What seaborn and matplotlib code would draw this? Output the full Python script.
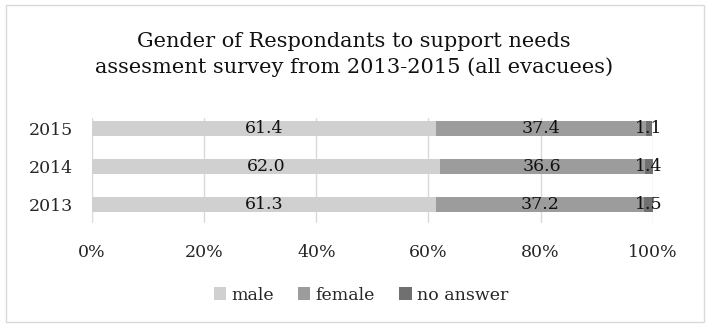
import matplotlib
matplotlib.use("Agg")
import matplotlib.pyplot as plt
from matplotlib.patches import Rectangle, Patch
import seaborn as sns
import pandas as pd
import numpy as np

years = ["2015", "2014", "2013"]
male = [61.4, 62.0, 61.3]
female = [37.4, 36.6, 37.2]
no_answer = [1.1, 1.4, 1.5]
series_names = ["male", "female", "no answer"]
colors = ["#d0d0d0", "#9c9c9c", "#707070"]
xticks = [0, 20, 40, 60, 80, 100]
xtick_labels = ["0%", "20%", "40%", "60%", "80%", "100%"]
title = "Gender of Respondants to support needs\nassesment survey from 2013-2015 (all evacuees)"

sns.set_theme(style="white")
plt.rcParams["font.family"] = ["DejaVu Serif"]

df = pd.DataFrame({"year": years, "male": male, "female": female, "no answer": no_answer})
df["c1"] = df["male"]
df["c2"] = df["male"] + df["female"]
df["c3"] = df["male"] + df["female"] + df["no answer"]

fig = plt.figure(figsize=(7.08, 3.25), dpi=100)
ax = fig.add_axes([0.130, 0.314, 0.792, 0.323])

bw = 0.40
for col, c in zip(["c3", "c2", "c1"], colors[::-1]):
    sns.barplot(data=df, y="year", x=col, order=years, color=c, width=bw,
                orient="h", ax=ax, saturation=1, zorder=3, edgecolor="none")

for i, row in df.iterrows():
    starts = [0, row["c1"], row["c2"]]
    vals = [row["male"], row["female"], row["no answer"]]
    for s, v in zip(starts, vals):
        ax.text(s + v / 2, i, f"{v:.1f}", ha="center", va="center",
                fontsize=12.5, color="#111111", zorder=5)

ax.set_xlim(0, 100)
ax.set_ylim(2.49, -0.28)
ax.set_xticks(xticks)
ax.set_xticklabels(xtick_labels, fontsize=12.5)
ax.tick_params(axis="x", pad=15, length=0)
ax.tick_params(axis="y", pad=14, length=0, labelsize=12.5)
ax.set_xlabel("")
ax.set_ylabel("")
ax.grid(axis="x", color="#d9d9d9", linewidth=1, zorder=0)
ax.grid(axis="y", visible=False)
for sp in ax.spines.values():
    sp.set_visible(False)

fig.text(0.5, 0.833, title, ha="center", va="center", fontsize=15,
         linespacing=1.42, color="#111111")

handles = [Patch(facecolor=c, edgecolor="none") for c in colors]
fig.legend(handles, series_names, loc="center", bbox_to_anchor=(0.51, 0.092),
           ncol=3, frameon=False, fontsize=12.5, handlelength=0.7, handleheight=0.7,
           handletextpad=0.3, columnspacing=1.4)

fig.patches.append(Rectangle((0.009, 0.01), 0.985, 0.975, transform=fig.transFigure,
                             fill=False, edgecolor="#d9d9d9", linewidth=1))

fig.savefig("out.png", dpi=100)
